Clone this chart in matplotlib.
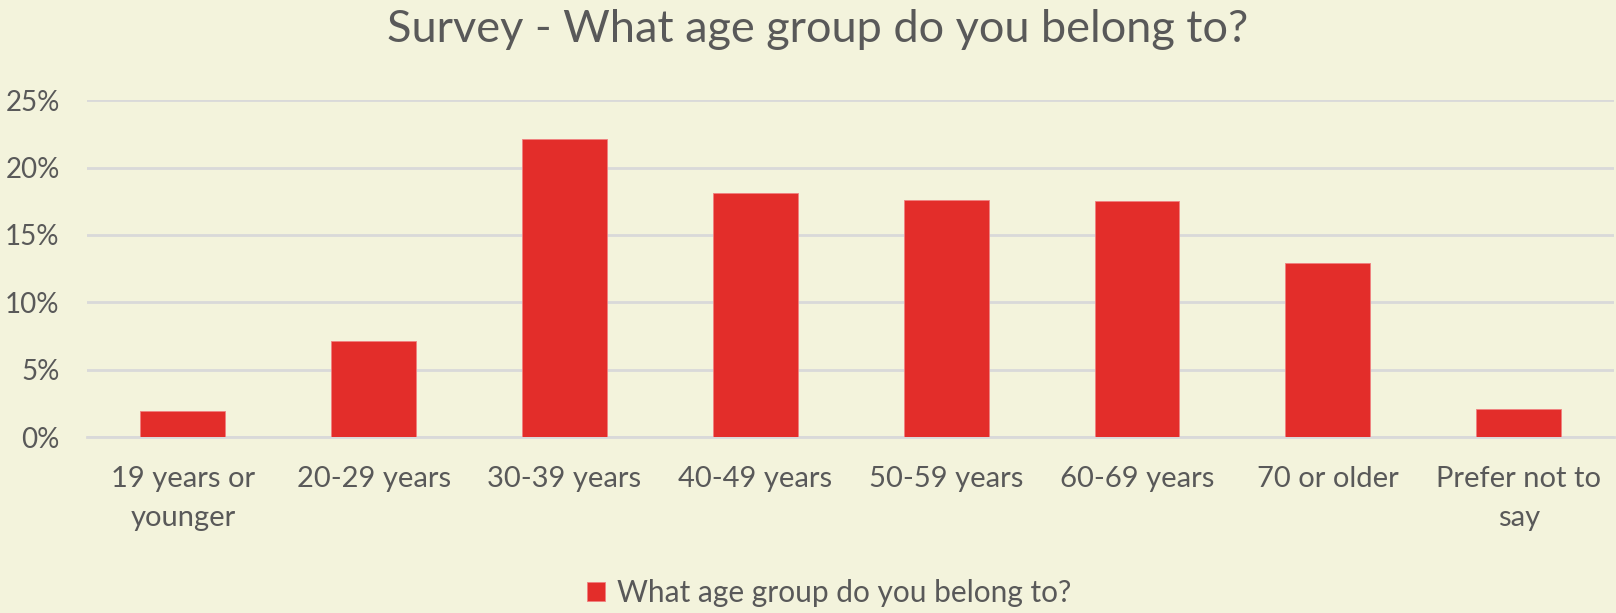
import matplotlib.pyplot as plt
from matplotlib.ticker import PercentFormatter

categories = ['19 years or\nyounger', '20-29 years', '30-39 years', '40-49 years',
              '50-59 years', '60-69 years', '70 or older', 'Prefer not to\nsay']
shares = [1.9, 7.1, 22.1, 18.1, 17.6, 17.5, 12.9, 2.1]
y_ticks = [0, 5, 10, 15, 20, 25]

bg = '#F3F3DC'
bar_color = '#E32D2A'
text_color = '#595959'

plt.rcParams['font.family'] = ['Lato', 'DejaVu Sans']

fig = plt.figure(figsize=(16.16, 6.13), dpi=100, facecolor=bg)
ax = fig.add_axes([0.0541, 0.2871, 0.9447, 0.5493], facecolor=bg)

x = range(len(categories))
bars = ax.bar(x, shares, width=0.445, color=bar_color, edgecolor='#F08080',
              linewidth=0.6, zorder=3, label='What age group do you belong to?')

ax.set_xlim(-0.5, len(categories) - 0.5)
ax.set_ylim(0, 25)
ax.set_yticks(y_ticks)
ax.yaxis.set_major_formatter(PercentFormatter(decimals=0))
ax.set_xticks(list(x))
ax.set_xticklabels(categories, linespacing=1.6)
ax.tick_params(axis='y', length=0, pad=20, labelsize=20, labelcolor=text_color)
ax.tick_params(axis='x', length=0, pad=21, labelsize=21, labelcolor=text_color)

ax.grid(axis='y', color='#D9D9D9', linewidth=2, zorder=0)
for side in ['top', 'right', 'left']:
    ax.spines[side].set_visible(False)
ax.spines['bottom'].set_color('#D9D9D9')
ax.spines['bottom'].set_linewidth(2)

fig.text(0.506, 0.952, 'Survey - What age group do you belong to?', ha='center', va='center',
         fontsize=32.5, color=text_color)

fig.legend(handles=[bars], loc='center', bbox_to_anchor=(0.513, 0.033), frameon=False,
           fontsize=21.5, labelcolor=text_color, handlelength=0.6, handleheight=0.6,
           handletextpad=0.4)

fig.savefig('out.png', dpi=100, facecolor=bg)
